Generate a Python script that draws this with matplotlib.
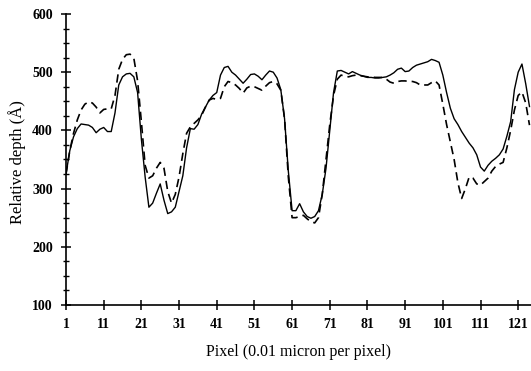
import matplotlib.pyplot as plt
from matplotlib.ticker import MultipleLocator

# pixel index along the profile
pixel = list(range(1, 125))

# solid profile (depth in Angstrom)
depth_solid = [
    325, 365, 389, 403, 411, 410, 409, 405, 396, 402,
    405, 398, 398, 430, 478, 492, 497, 498, 492, 465,
    385, 320, 268, 275, 292, 308, 280, 257, 260, 268,
    295, 322, 370, 403, 402, 410, 428, 440, 452, 460,
    465, 495, 508, 510, 500, 495, 488, 481, 488, 496,
    497, 493, 487, 495, 502, 500, 490, 470, 420, 330,
    262, 262, 274, 260, 252, 249, 252, 262, 290, 335,
    400, 465, 502, 503, 500, 497, 501, 498, 495, 493,
    491, 491, 490, 490, 491, 492, 495, 499, 505, 507,
    501, 502, 508, 512, 514, 516, 518, 522, 520, 517,
    495, 465, 438, 420, 410, 398, 388, 378, 370, 358,
    337, 330, 340, 347, 352, 358, 368, 390, 415, 470,
    500, 514, 480, 441,
]

# dashed profile
depth_dashed = [
    325, 365, 395, 418, 435, 445, 449, 447, 440, 430,
    436, 437, 437, 460, 505, 522, 530, 531, 524, 485,
    415, 340, 318, 322, 335, 345, 335, 295, 275, 290,
    320, 360, 395, 406, 412, 418, 426, 440, 452, 455,
    453, 455, 475, 484, 482, 478, 472, 464, 473, 476,
    475, 472, 469, 476, 482, 484, 480, 469, 420, 320,
    250, 250, 252, 254, 248, 243, 241, 250, 290, 350,
    410, 460, 488, 495, 493, 492, 494, 495, 494, 493,
    492, 492, 491, 491, 491, 488, 483, 481, 484, 485,
    485, 484, 484, 482, 478, 478, 478, 482, 485, 478,
    445, 410, 380, 350, 310, 283, 300, 320, 318, 308,
    306, 312, 318, 330, 338, 342, 345, 370, 400, 435,
    460, 466, 447, 409,
]

x_ticks = [1, 11, 21, 31, 41, 51, 61, 71, 81, 91, 101, 111, 121]

plt.rcParams["font.family"] = ["Liberation Serif", "DejaVu Serif"]

fig = plt.figure(figsize=(5.31, 3.71), dpi=100)
ax = fig.add_axes([0.1243, 0.178, 0.8757, 0.7843])

ax.plot(pixel, depth_solid, color="black", linewidth=1.0)
ax.plot(pixel, depth_dashed, color="black", linewidth=1.2, linestyle=(0, (5, 3)))

ax.set_xlim(1, 124.4)
ax.set_ylim(100, 600)
ax.set_xticks(x_ticks)
ax.yaxis.set_major_locator(MultipleLocator(100))
ax.yaxis.set_minor_locator(MultipleLocator(25))

for side in ["top", "right"]:
    ax.spines[side].set_visible(False)
ax.spines["left"].set_linewidth(1.2)
ax.spines["bottom"].set_linewidth(1.2)

ax.tick_params(axis="both", which="major", direction="inout", length=7, width=1.1,
               labelsize=10)
ax.tick_params(axis="y", which="minor", direction="inout", length=5, width=1.0)
ax.tick_params(axis="x", pad=6)
ax.tick_params(axis="y", pad=6)
for lbl in ax.get_xticklabels() + ax.get_yticklabels():
    lbl.set_fontweight("bold")

ax.set_xlabel("Pixel (0.01 micron per pixel)", fontsize=11.5, labelpad=9)
ax.set_ylabel("Relative depth (Å)", fontsize=12)
ax.yaxis.set_label_coords(-0.086, 0.49)

fig.savefig("out.png", dpi=100)
